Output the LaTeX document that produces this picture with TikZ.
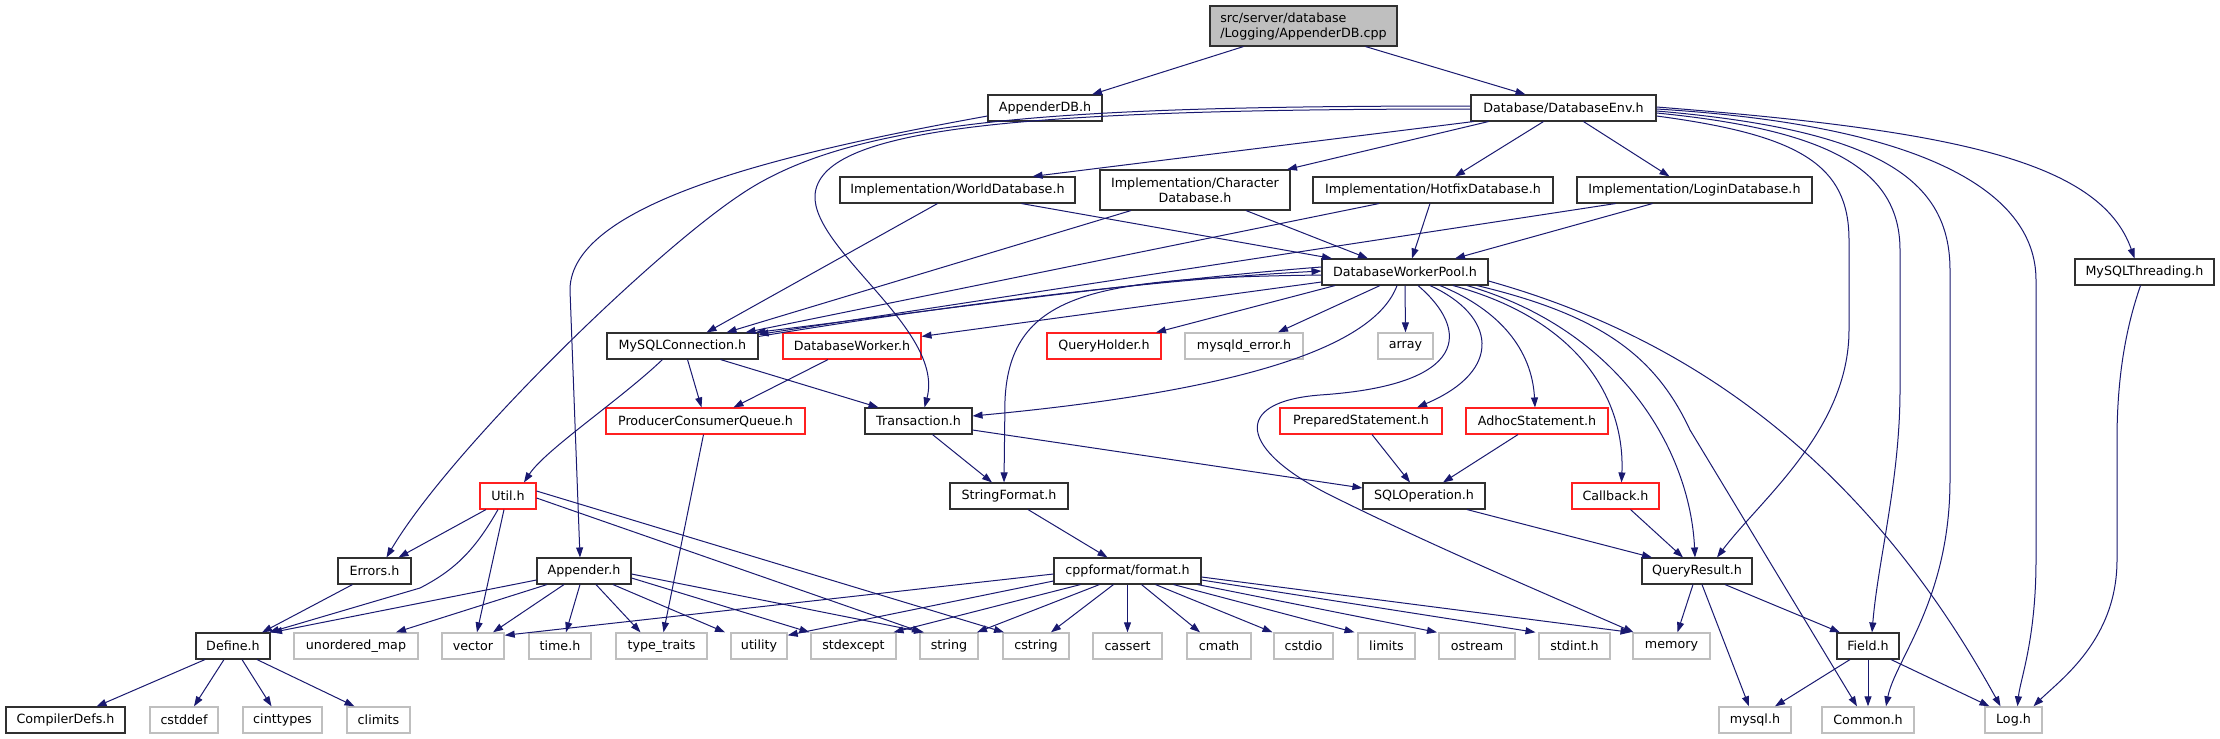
\documentclass[tikz,border=0pt]{standalone}
\usepackage{fontspec}
\setmainfont{DejaVu Sans}
\usetikzlibrary{arrows.meta}
\definecolor{edgec}{HTML}{191970}
\definecolor{grayb}{HTML}{BFBFBF}
\definecolor{redb}{HTML}{FF2020}
\definecolor{blkb}{HTML}{303030}
\begin{document}
\begin{tikzpicture}[x=1pt,y=-1pt,
  nd/.style={draw, inner sep=0pt, minimum height=26pt, font=\fontsize{12.7}{15}\selectfont, line width=1.1pt},
  blk/.style={nd, draw=blkb},
  redn/.style={nd, draw=redb},
  gryn/.style={nd, draw=grayb, line width=1.4pt},
  e/.style={draw=edgec, line width=1pt, -{Triangle[length=10pt,width=7pt]}}]
\fill[white] (0,0) rectangle (2220,739);
\useasboundingbox (0,0) rectangle (2220,739);
% row 0
\node[blk,minimum width=187pt,minimum height=40pt,fill=grayb,align=left] (root) at (1303.5,26) {src/server/database\\/Logging/AppenderDB.cpp};
% row 1
\node[blk,minimum width=114pt] (appdb) at (1045,108) {AppenderDB.h};
\node[blk,minimum width=185pt] (dbenv) at (1563.5,108) {Database/DatabaseEnv.h};
% row 2
\node[blk,minimum width=235pt] (world) at (957.5,190) {Implementation/WorldDatabase.h};
\node[blk,minimum width=190pt,minimum height=40pt,align=center] (chardb) at (1195,190) {Implementation/Character\\Database.h};
\node[blk,minimum width=240pt] (hotfix) at (1433,190) {Implementation/HotfixDatabase.h};
\node[blk,minimum width=235pt] (login) at (1694.5,190) {Implementation/LoginDatabase.h};
% row 3
\node[blk,minimum width=166pt] (dwp) at (1405,272) {DatabaseWorkerPool.h};
\node[blk,minimum width=139pt] (mythr) at (2144.5,272) {MySQLThreading.h};
% row 4
\node[blk,minimum width=151pt] (mcs) at (682.5,346) {MySQLConnection.h};
\node[redn,minimum width=138pt] (dbw) at (852,346) {DatabaseWorker.h};
\node[redn,minimum width=114pt] (qh) at (1104,346) {QueryHolder.h};
\node[gryn,minimum width=118pt] (myerr) at (1244,346) {mysqld\_error.h};
\node[gryn,minimum width=55pt] (array) at (1405.5,346) {array};
% row 5
\node[redn,minimum width=199pt] (pcq) at (705.5,421) {ProducerConsumerQueue.h};
\node[blk,minimum width=107pt] (trans) at (918.5,421) {Transaction.h};
\node[redn,minimum width=162pt] (ps) at (1361,421) {PreparedStatement.h};
\node[redn,minimum width=142pt] (adhoc) at (1537,421) {AdhocStatement.h};
% row 6
\node[redn,minimum width=56pt] (util) at (508,496) {Util.h};
\node[blk,minimum width=118pt] (sf) at (1009,496) {StringFormat.h};
\node[blk,minimum width=122pt] (sqlop) at (1424,496) {SQLOperation.h};
\node[redn,minimum width=87pt] (cb) at (1615.5,496) {Callback.h};
% row 7
\node[blk,minimum width=73pt] (errors) at (374.5,571) {Errors.h};
\node[blk,minimum width=94pt] (appender) at (584,571) {Appender.h};
\node[blk,minimum width=147pt] (cpp) at (1127.5,571) {cppformat/format.h};
\node[blk,minimum width=110pt] (qr) at (1697,571) {QueryResult.h};
% row 8
\node[blk,minimum width=74pt] (define) at (233,646) {Define.h};
\node[gryn,minimum width=124pt] (umap) at (356,646) {unordered\_map};
\node[gryn,minimum width=62pt] (vector) at (473,646) {vector};
\node[gryn,minimum width=62pt] (timeh) at (560,646) {time.h};
\node[gryn,minimum width=91pt] (tt) at (661.5,646) {type\_traits};
\node[gryn,minimum width=56pt] (utility) at (759,646) {utility};
\node[gryn,minimum width=85pt] (stdexcept) at (853.5,646) {stdexcept};
\node[gryn,minimum width=58pt] (string) at (949,646) {string};
\node[gryn,minimum width=66pt] (cstring) at (1036,646) {cstring};
\node[gryn,minimum width=69pt] (cassert) at (1127.5,646) {cassert};
\node[gryn,minimum width=64pt] (cmath) at (1219,646) {cmath};
\node[gryn,minimum width=59pt] (cstdio) at (1303.5,646) {cstdio};
\node[gryn,minimum width=57pt] (limits) at (1386.5,646) {limits};
\node[gryn,minimum width=76pt] (ostream) at (1477,646) {ostream};
\node[gryn,minimum width=71pt] (stdint) at (1574.5,646) {stdint.h};
\node[gryn,minimum width=77pt] (memory) at (1671.5,646) {memory};
\node[blk,minimum width=62pt] (field) at (1868,646) {Field.h};
% row 9
\node[blk,minimum width=119pt] (compdefs) at (65.5,720) {CompilerDefs.h};
\node[gryn,minimum width=68pt] (cstddef) at (184,720) {cstddef};
\node[gryn,minimum width=79pt] (cinttypes) at (282.5,720) {cinttypes};
\node[gryn,minimum width=63pt] (climits) at (378.5,720) {climits};
\node[gryn,minimum width=72pt] (mysqlh) at (1755,720) {mysql.h};
\node[gryn,minimum width=92pt] (common) at (1868,720) {Common.h};
\node[gryn,minimum width=57pt] (log) at (2013.5,720) {Log.h};

% ---- edges ----
\draw[e] ([xshift=-60pt]root.south) -- ([xshift=47pt]appdb.north);
\draw[e] ([xshift=62pt]root.south) -- ([xshift=-38pt]dbenv.north);
% AppenderDB
\draw[e] ([yshift=-8pt]appdb.west) .. controls (800,150) and (570,200) .. (570,290) -- ([xshift=-4pt]appender.north);
% DatabaseEnv
\draw[e] ([yshift=2pt]dbenv.west) .. controls (1050,106) and (850,120) .. (740,195) .. controls (650,255) and (450,450) .. ([xshift=12pt]errors.north);
\draw[e] ([yshift=-1pt]dbenv.west) .. controls (1000,109) and (820,130) .. (815,195) .. controls (812,250) and (945,330) .. ([xshift=6pt]trans.north);
\draw[e] ([xshift=-90pt]dbenv.south) -- ([xshift=75pt]world.north);
\draw[e] ([xshift=-75pt]dbenv.south) -- ([xshift=92pt]chardb.north);
\draw[e] ([xshift=-20pt]dbenv.south) -- ([xshift=22pt]hotfix.north);
\draw[e] ([xshift=20pt]dbenv.south) -- ([xshift=-25pt]login.north);
\draw[e] ([yshift=-8pt]dbenv.east) .. controls (1800,135) and (1849,165) .. (1849,240) -- (1849,330) .. controls (1849,430) and (1760,500) .. ([xshift=20pt]qr.north);
\draw[e] ([yshift=-5pt]dbenv.east) .. controls (1830,130) and (1900,170) .. (1900,250) -- (1900,390) .. controls (1900,480) and (1878,560) .. ([xshift=4pt]field.north);
\draw[e] ([yshift=-3pt]dbenv.east) .. controls (1880,130) and (1950,180) .. (1950,270) -- (1950,480) .. controls (1950,600) and (1895,660) .. ([xshift=18pt]common.north);
\draw[e] ([yshift=-1pt]dbenv.east) .. controls (1920,125) and (2036,190) .. (2036,280) -- (2036,560) .. controls (2036,640) and (2020,680) .. ([xshift=4pt]log.north);
\draw[e] ([yshift=1pt]dbenv.east) .. controls (1950,130) and (2100,160) .. ([xshift=-10pt]mythr.north);
\draw[e] ([xshift=-4pt]mythr.south) .. controls (2125,330) and (2117,380) .. (2117,440) -- (2117,560) .. controls (2117,640) and (2060,680) .. ([xshift=20pt]log.north);
% Implementation headers
\draw[e] ([xshift=-20pt]world.south) -- ([xshift=24pt]mcs.north);
\draw[e] ([xshift=64pt]world.south) -- ([xshift=-73pt]dwp.north);
\draw[e] ([xshift=-64pt]chardb.south) -- ([xshift=44pt]mcs.north);
\draw[e] ([xshift=51pt]chardb.south) -- ([xshift=-37pt]dwp.north);
\draw[e] ([xshift=-54pt]hotfix.south) -- ([xshift=63pt]mcs.north);
\draw[e] ([xshift=-3pt]hotfix.south) -- ([xshift=7pt]dwp.north);
\draw[e] ([xshift=-79pt]login.south) -- ([yshift=-2pt]mcs.north east);
\draw[e] ([xshift=-42pt]login.south) -- ([xshift=50pt]dwp.north);
% DatabaseWorkerPool
\draw[e] ([yshift=5pt]dwp.west) .. controls (1150,280) and (900,315) .. ([xshift=-3pt]mcs.north east);
\draw[e] ([yshift=-4pt]mcs.north east) .. controls (950,305) and (1150,280) .. ([yshift=1pt]dwp.west);
\draw[e] ([yshift=-3pt]dwp.west) .. controls (1100,278) and (1010,290) .. (1005,400) -- ([xshift=-5pt]sf.north);
\draw[e] ([yshift=-10pt]dwp.west) -- ([yshift=-4pt]dbw.north east);
\draw[e] ([xshift=-70pt]dwp.south) -- ([xshift=52pt]qh.north);
\draw[e] ([xshift=-25pt]dwp.south) -- ([xshift=34pt]myerr.north);
\draw[e] (dwp.south) -- (array.north);
\draw[e] ([xshift=-8pt]dwp.south) .. controls (1375,345) and (1250,390) .. ([yshift=5pt]trans.east);
\draw[e] ([xshift=13pt]dwp.south) .. controls (1470,330) and (1470,385) .. (1320,395) .. controls (1230,402) and (1240,450) .. (1330,495) .. controls (1430,545) and (1560,600) .. ([xshift=-38pt]memory.north);
\draw[e] ([xshift=25pt]dwp.south) .. controls (1495,315) and (1505,370) .. ([xshift=56pt]ps.north);
\draw[e] ([xshift=35pt]dwp.south) .. controls (1500,310) and (1532,350) .. ([xshift=-2pt]adhoc.north);
\draw[e] ([xshift=48pt]dwp.south) .. controls (1580,320) and (1625,400) .. ([xshift=6pt]cb.north);
\draw[e] ([xshift=62pt]dwp.south) .. controls (1620,330) and (1690,450) .. ([xshift=-2pt]qr.north);
\draw[e] ([xshift=72pt]dwp.south) .. controls (1600,315) and (1655,355) .. (1690,430) -- ([xshift=-11pt]common.north);
\draw[e] ([yshift=-9pt]dwp.east) .. controls (1700,340) and (1870,470) .. ([xshift=-13pt]log.north);
% MySQLConnection / DatabaseWorker
\draw[e] ([xshift=-20pt]mcs.south) .. controls (620,400) and (545,450) .. ([xshift=16pt]util.north);
\draw[e] ([xshift=5pt]mcs.south) -- ([xshift=-4pt]pcq.north);
\draw[e] ([xshift=38pt]mcs.south) -- ([xshift=-40pt]trans.north);
\draw[e] ([xshift=-24pt]dbw.south) -- ([xshift=28pt]pcq.north);
% row 5
\draw[e] ([xshift=-2pt]pcq.south) -- ([xshift=2pt]tt.north);
\draw[e] ([xshift=14pt]trans.south) -- ([xshift=-17pt]sf.north);
\draw[e] ([yshift=-9pt]trans.east) -- ([yshift=8pt]sqlop.west);
\draw[e] ([xshift=11pt]ps.south) -- ([xshift=-14pt]sqlop.north);
\draw[e] ([xshift=-19pt]adhoc.south) -- ([xshift=19pt]sqlop.north);
% row 6
\draw[e] ([xshift=43pt]sqlop.south) -- ([xshift=-45pt]qr.north);
\draw[e] ([xshift=15pt]cb.south) -- ([xshift=-14pt]qr.north);
\draw[e] ([xshift=19pt]sf.south) -- ([xshift=-20pt]cpp.north);
\draw[e] ([xshift=-22pt]util.south) -- ([xshift=24pt]errors.north);
\draw[e] ([xshift=-10pt]util.south) .. controls (475,550) and (455,570) .. (420,588) -- ([xshift=36pt]define.north);
\draw[e] ([xshift=-4pt]util.south) -- ([xshift=4pt]vector.north);
\draw[e] ([yshift=-2pt]util.east) -- ([xshift=-27pt]string.north);
\draw[e] ([yshift=5pt]util.east) -- ([xshift=-32pt]cstring.north);
% row 7
\draw[e] ([xshift=-4pt]qr.south) -- ([xshift=6pt]memory.north);
\draw[e] ([xshift=5pt]qr.south) -- ([xshift=-6pt]mysqlh.north);
\draw[e] ([xshift=28pt]qr.south) -- ([xshift=-28pt]field.north);
\draw[e] ([xshift=-22pt]errors.south) -- ([xshift=29pt]define.north);
\draw[e] ([yshift=-9pt]appender.west) -- ([xshift=39pt]define.north);
\draw[e] ([xshift=-37pt]appender.south) -- ([xshift=40pt]umap.north);
\draw[e] ([xshift=-20pt]appender.south) -- ([xshift=20pt]vector.north);
\draw[e] ([xshift=-4pt]appender.south) -- ([xshift=6pt]timeh.north);
\draw[e] ([xshift=12pt]appender.south) -- ([xshift=-21pt]tt.north);
\draw[e] ([xshift=29pt]appender.south) -- ([xshift=-34pt]utility.north);
\draw[e] ([yshift=-7pt]appender.east) -- ([xshift=-44pt]stdexcept.north);
\draw[e] ([yshift=-3pt]appender.east) -- ([xshift=-25pt]string.north);
\draw[e] ([yshift=-3pt]cpp.west) -- ([yshift=-3pt]vector.north east);
\draw[e] ([yshift=-10pt]cpp.west) -- ([yshift=-3pt]utility.north east);
\draw[e] ([xshift=-47pt]cpp.south) -- ([xshift=40pt]stdexcept.north);
\draw[e] ([xshift=-28pt]cpp.south) -- ([xshift=28pt]string.north);
\draw[e] ([xshift=-14pt]cpp.south) -- ([xshift=15pt]cstring.north);
\draw[e] (cpp.south) -- (cassert.north);
\draw[e] ([xshift=14pt]cpp.south) -- ([xshift=-19pt]cmath.north);
\draw[e] ([xshift=28pt]cpp.south) -- ([xshift=-31pt]cstdio.north);
\draw[e] ([xshift=46pt]cpp.south) -- ([xshift=-32pt]limits.north);
\draw[e] ([xshift=70pt]cpp.south) -- ([xshift=-40pt]ostream.north);
\draw[e] ([yshift=-9pt]cpp.east) -- ([xshift=-39pt]stdint.north);
\draw[e] ([yshift=-6pt]cpp.east) -- ([xshift=-41pt]memory.north);
% row 8
\draw[e] ([xshift=-18pt]field.south) -- ([xshift=20pt]mysqlh.north);
\draw[e] (field.south) -- (common.north);
\draw[e] ([xshift=23pt]field.south) -- ([xshift=-24pt]log.north);
\draw[e] ([xshift=-28pt]define.south) -- ([xshift=31pt]compdefs.north);
\draw[e] ([xshift=-9pt]define.south) -- ([xshift=10pt]cstddef.north);
\draw[e] ([xshift=9pt]define.south) -- ([xshift=-11pt]cinttypes.north);
\draw[e] ([xshift=24pt]define.south) -- ([xshift=-24pt]climits.north);
\end{tikzpicture}
\end{document}
